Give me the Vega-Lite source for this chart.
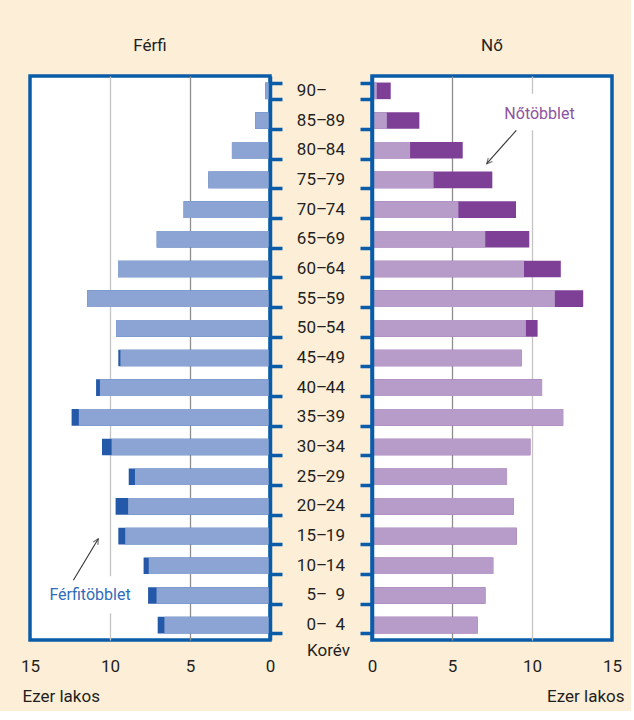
{
  "$schema": "https://vega.github.io/schema/vega-lite/v6.json",
  "background": "#FDEED8",
  "padding": {"left": 18, "top": 35, "right": 5, "bottom": 5},
  "bounds": "flush",
  "spacing": 0,
  "config": {
    "font": "Roboto",
    "view": {"stroke": "#0A5CA9", "strokeWidth": 3.5, "fill": "white"},
    "axis": {"labelFont": "Roboto", "titleFont": "Roboto", "labelColor": "#231F20", "titleColor": "#231F20", "labelFontSize": 17, "titleFontSize": 17, "titleFontWeight": "normal"},
    "title": {"font": "Roboto", "fontSize": 17, "fontWeight": "normal", "color": "#231F20", "anchor": "middle", "baseline": "alphabetic", "offset": 21}
  },
  "datasets": {
    "pop": [
      {"age": "90–", "lo": "90–", "hi": "", "ferfi": 0.3, "no": 1.17, "kozos": 0.3},
      {"age": "85–89", "lo": "85–", "hi": "89", "ferfi": 0.93, "no": 2.96, "kozos": 0.93},
      {"age": "80–84", "lo": "80–", "hi": "84", "ferfi": 2.38, "no": 5.67, "kozos": 2.38},
      {"age": "75–79", "lo": "75–", "hi": "79", "ferfi": 3.85, "no": 7.52, "kozos": 3.85},
      {"age": "70–74", "lo": "70–", "hi": "74", "ferfi": 5.4, "no": 9.0, "kozos": 5.4},
      {"age": "65–69", "lo": "65–", "hi": "69", "ferfi": 7.08, "no": 9.83, "kozos": 7.08},
      {"age": "60–64", "lo": "60–", "hi": "64", "ferfi": 9.5, "no": 11.8, "kozos": 9.5},
      {"age": "55–59", "lo": "55–", "hi": "59", "ferfi": 11.43, "no": 13.2, "kozos": 11.43},
      {"age": "50–54", "lo": "50–", "hi": "54", "ferfi": 9.62, "no": 10.35, "kozos": 9.62},
      {"age": "45–49", "lo": "45–", "hi": "49", "ferfi": 9.48, "no": 9.35, "kozos": 9.35},
      {"age": "40–44", "lo": "40–", "hi": "44", "ferfi": 10.87, "no": 10.63, "kozos": 10.63},
      {"age": "35–39", "lo": "35–", "hi": "39", "ferfi": 12.4, "no": 11.95, "kozos": 11.95},
      {"age": "30–34", "lo": "30–", "hi": "34", "ferfi": 10.5, "no": 9.9, "kozos": 9.9},
      {"age": "25–29", "lo": "25–", "hi": "29", "ferfi": 8.83, "no": 8.44, "kozos": 8.44},
      {"age": "20–24", "lo": "20–", "hi": "24", "ferfi": 9.65, "no": 8.87, "kozos": 8.87},
      {"age": "15–19", "lo": "15–", "hi": "19", "ferfi": 9.48, "no": 9.05, "kozos": 9.05},
      {"age": "10–14", "lo": "10–", "hi": "14", "ferfi": 7.9, "no": 7.58, "kozos": 7.58},
      {"age": "5–9", "lo": "5–", "hi": "9", "ferfi": 7.62, "no": 7.09, "kozos": 7.09},
      {"age": "0–4", "lo": "0–", "hi": "4", "ferfi": 7.02, "no": 6.6, "kozos": 6.6}
    ]
  },
  "resolve": {"scale": {"x": "independent", "y": "independent"}},
  "hconcat": [
    {
      "width": 240,
      "height": 564,
      "title": {"text": "Férfi"},
      "resolve": {"scale": {"y": "independent"}},
      "layer": [
        {
          "data": {"name": "pop"},
          "layer": [
            {
              "mark": {"type": "bar", "color": "#2458A8"},
              "encoding": {
                "y": {"field": "age", "type": "nominal", "scale": {"domain": ["90–","85–89","80–84","75–79","70–74","65–69","60–64","55–59","50–54","45–49","40–44","35–39","30–34","25–29","20–24","15–19","10–14","5–9","0–4"], "paddingInner": 0.44, "paddingOuter": 0.22},
                  "axis": {"orient": "right", "title": null, "labels": false, "tickBand": "extent", "tickSize": 12, "tickWidth": 3.5, "tickColor": "#0A5CA9", "domain": true, "domainColor": "#0A5CA9", "domainWidth": 3.5, "zindex": 1}},
                "x": {"field": "ferfi", "type": "quantitative", "scale": {"domain": [0, 15], "reverse": true, "nice": false, "zero": true},
                  "axis": {"values": [0, 5, 10, 15], "grid": true, "gridWidth": 1.3,
                    "gridColor": {"condition": [{"test": "datum.value === 10", "value": "#C4C4C4"}, {"test": "datum.value === 0 || datum.value === 15", "value": "rgba(0,0,0,0)"}], "value": "#8E8E8E"},
                    "ticks": false, "domain": false, "labelPadding": 18, "labelFlush": false,
                    "title": "Ezer lakos", "titleAlign": "left", "titleX": -8, "titleY": 56, "titleBaseline": "middle"}}
              }
            },
            {
              "mark": {"type": "bar", "color": "#8BA4D4"},
              "encoding": {
                "y": {"field": "age", "type": "nominal"},
                "x": {"field": "kozos", "type": "quantitative"}
              }
            }
          ]
        },
        {
          "data": {"values": [{"label": "Férfitöbblet"}]},
          "layer": [
            {
              "mark": {"type": "rect", "color": "white"},
              "encoding": {
                "x": {"datum": 9.7, "type": "quantitative"},
                "x2": {"datum": 10.3},
                "y": {"datum": 16.85, "type": "quantitative", "scale": {"domain": [0, 19], "reverse": true, "nice": false, "zero": false}, "axis": null},
                "y2": {"datum": 18.1}
              }
            },
            {
              "mark": {"type": "text", "color": "#2F6DBA", "fontSize": 16, "font": "Roboto", "align": "center", "baseline": "middle"},
              "encoding": {
                "x": {"datum": 11.25, "type": "quantitative"},
                "y": {"datum": 17.49, "type": "quantitative"},
                "text": {"field": "label"}
              }
            },
            {
              "mark": {"type": "rule", "color": "#333333", "strokeWidth": 1.1},
              "encoding": {
                "x": {"datum": 12.29, "type": "quantitative"},
                "x2": {"datum": 10.73},
                "y": {"datum": 16.99, "type": "quantitative"},
                "y2": {"datum": 15.59}
              }
            },
            {
              "mark": {"type": "point", "shape": "M-0.5,1L0,0L0.5,1", "filled": false, "color": "#333333", "strokeWidth": 1.1, "size": 120, "angle": 31},
              "encoding": {
                "x": {"datum": 10.73, "type": "quantitative"},
                "y": {"datum": 15.59, "type": "quantitative"}
              }
            }
          ]
        }
      ]
    },
    {
      "width": 102,
      "height": 564,
      "view": {"stroke": null, "fill": null},
      "data": {"name": "pop"},
      "layer": [
        {
          "mark": {"type": "text", "align": "right", "baseline": "middle", "fontSize": 17, "font": "Roboto", "color": "#231F20"},
          "encoding": {
            "y": {"field": "age", "type": "nominal", "scale": {"domain": ["90–","85–89","80–84","75–79","70–74","65–69","60–64","55–59","50–54","45–49","40–44","35–39","30–34","25–29","20–24","15–19","10–14","5–9","0–4"], "paddingInner": 0.44, "paddingOuter": 0.22}, "axis": null},
            "x": {"datum": 0.56, "type": "quantitative", "scale": {"domain": [0, 1], "nice": false},
              "axis": {"domain": false, "ticks": false, "labels": false, "grid": false, "title": "Korév", "titlePadding": 2, "titleX": 58}},
            "text": {"field": "lo"}
          }
        },
        {
          "mark": {"type": "text", "align": "right", "baseline": "middle", "fontSize": 17, "font": "Roboto", "color": "#231F20"},
          "encoding": {
            "y": {"field": "age", "type": "nominal"},
            "x": {"datum": 0.735, "type": "quantitative"},
            "text": {"field": "hi"}
          }
        }
      ]
    },
    {
      "width": 240,
      "height": 564,
      "title": {"text": "Nő"},
      "resolve": {"scale": {"y": "independent"}},
      "layer": [
        {
          "data": {"name": "pop"},
          "layer": [
            {
              "mark": {"type": "bar", "color": "#7E3F97"},
              "encoding": {
                "y": {"field": "age", "type": "nominal", "scale": {"domain": ["90–","85–89","80–84","75–79","70–74","65–69","60–64","55–59","50–54","45–49","40–44","35–39","30–34","25–29","20–24","15–19","10–14","5–9","0–4"], "paddingInner": 0.44, "paddingOuter": 0.22},
                  "axis": {"orient": "left", "title": null, "labels": false, "tickBand": "extent", "tickSize": 12, "tickWidth": 3.5, "tickColor": "#0A5CA9", "domain": true, "domainColor": "#0A5CA9", "domainWidth": 3.5, "zindex": 1}},
                "x": {"field": "no", "type": "quantitative", "scale": {"domain": [0, 15], "nice": false, "zero": true},
                  "axis": {"values": [0, 5, 10, 15], "grid": true, "gridWidth": 1.3,
                    "gridColor": {"condition": [{"test": "datum.value === 10", "value": "#C4C4C4"}, {"test": "datum.value === 0 || datum.value === 15", "value": "rgba(0,0,0,0)"}], "value": "#8E8E8E"},
                    "ticks": false, "domain": false, "labelPadding": 18, "labelFlush": false,
                    "title": "Ezer lakos", "titleAlign": "right", "titleX": 252, "titleY": 56, "titleBaseline": "middle"}}
              }
            },
            {
              "mark": {"type": "bar", "color": "#B79CCA"},
              "encoding": {
                "y": {"field": "age", "type": "nominal"},
                "x": {"field": "kozos", "type": "quantitative"}
              }
            }
          ]
        },
        {
          "data": {"values": [{"label": "Nőtöbblet"}]},
          "layer": [
            {
              "mark": {"type": "rect", "color": "white"},
              "encoding": {
                "x": {"datum": 9.7, "type": "quantitative"},
                "x2": {"datum": 10.3},
                "y": {"datum": 0.6, "type": "quantitative", "scale": {"domain": [0, 19], "reverse": true, "nice": false, "zero": false}, "axis": null},
                "y2": {"datum": 1.83}
              }
            },
            {
              "mark": {"type": "text", "color": "#8E52A1", "fontSize": 16, "font": "Roboto", "align": "center", "baseline": "middle"},
              "encoding": {
                "x": {"datum": 10.47, "type": "quantitative"},
                "y": {"datum": 1.27, "type": "quantitative"},
                "text": {"field": "label"}
              }
            },
            {
              "mark": {"type": "rule", "color": "#333333", "strokeWidth": 1.1},
              "encoding": {
                "x": {"datum": 9.02, "type": "quantitative"},
                "x2": {"datum": 7.17},
                "y": {"datum": 1.83, "type": "quantitative"},
                "y2": {"datum": 2.955}
              }
            },
            {
              "mark": {"type": "point", "shape": "M-0.5,1L0,0L0.5,1", "filled": false, "color": "#333333", "strokeWidth": 1.1, "size": 120, "angle": 221.5},
              "encoding": {
                "x": {"datum": 7.17, "type": "quantitative"},
                "y": {"datum": 2.955, "type": "quantitative"}
              }
            }
          ]
        }
      ]
    }
  ]
}
